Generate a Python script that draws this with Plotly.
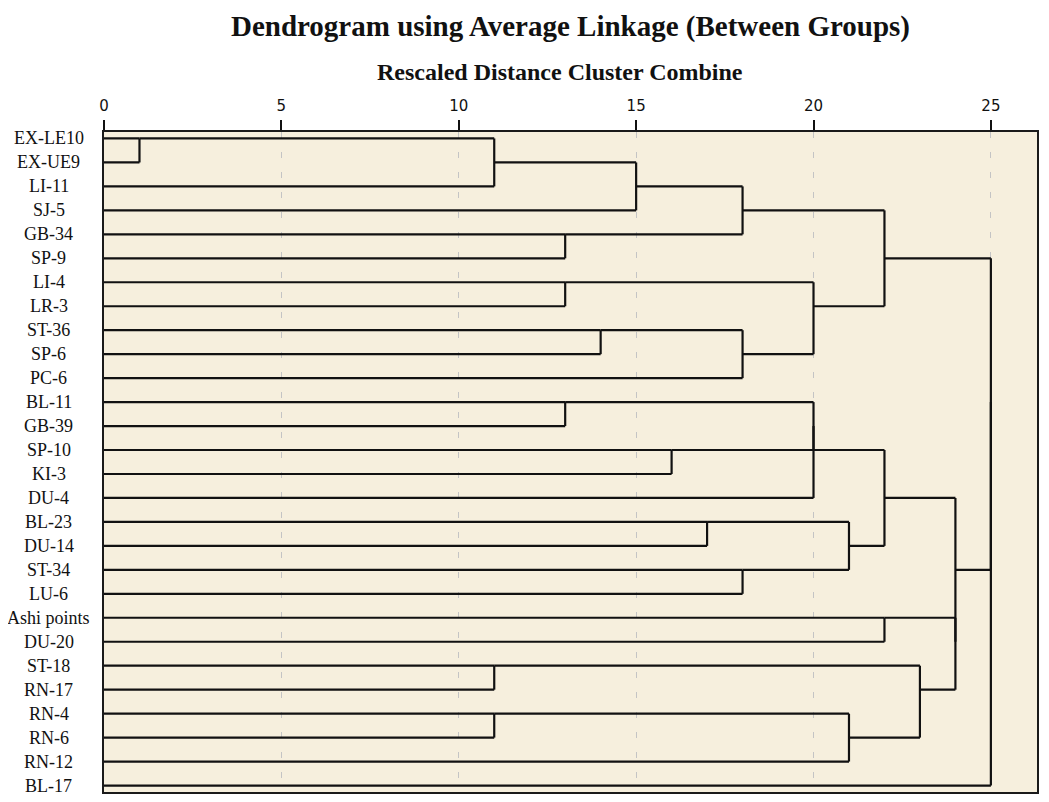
import plotly.graph_objects as go

# ---- data -------------------------------------------------------------
leaf_labels = [
    "EX-LE10", "EX-UE9", "LI-11", "SJ-5", "GB-34", "SP-9", "LI-4", "LR-3",
    "ST-36", "SP-6", "PC-6", "BL-11", "GB-39", "SP-10", "KI-3", "DU-4",
    "BL-23", "DU-14", "ST-34", "LU-6", "Ashi points", "DU-20", "ST-18",
    "RN-17", "RN-4", "RN-6", "RN-12", "BL-17",
]

# merge table (scipy-like): children are leaf indices (0..27) or
# earlier merge ids (28 + k); heights are rescaled distances
merge_a = [0, 28, 29, 4, 30, 6, 8, 34, 33, 32, 11, 13, 38, 40, 16, 18, 42, 41, 20, 22, 24, 48, 47, 46, 45, 37, 53]
merge_b = [1, 2, 3, 5, 31, 7, 9, 10, 35, 36, 12, 14, 39, 15, 17, 19, 43, 44, 21, 23, 25, 26, 49, 50, 51, 52, 27]
merge_h = [1, 11, 15, 13, 18, 13, 14, 18, 20, 22, 13, 16, 20, 20, 17, 18, 21, 22, 22, 11, 11, 21, 23, 24, 24, 25, 25]

x_ticks = [0, 5, 10, 15, 20, 25]

title_text = "Dendrogram using Average Linkage (Between Groups)"
subtitle_text = "Rescaled Distance Cluster Combine"

# ---- layout of the tree ------------------------------------------------
n = len(leaf_labels)
row = {i: i for i in range(n)}        # row (line) of each node
start = {i: 0 for i in range(n)}      # distance at which the node's line begins

xs, ys = [], []
for k, (a, b, h) in enumerate(zip(merge_a, merge_b, merge_h)):
    node = n + k
    for c in (a, b):
        xs += [start[c], h, None]
        ys += [row[c], row[c], None]
    lo, hi = sorted((row[a], row[b]))
    xs += [h, h, None]
    ys += [lo, hi, None]
    row[node] = (lo + hi) // 2
    start[node] = h

fig = go.Figure()
fig.add_trace(go.Scatter(
    x=xs, y=ys, mode="lines",
    line=dict(color="#111111", width=2.2),
    hoverinfo="skip", showlegend=False,
))

for i, lab in enumerate(leaf_labels):
    fig.add_annotation(
        x=-0.059, xref="paper", y=i, yref="y",
        text=lab, showarrow=False, xanchor="center", yanchor="middle",
        font=dict(family="Liberation Serif", size=18, color="#111111"),
    )

fig.add_annotation(
    x=0.4887, xref="paper", y=1.0909, yref="paper",
    text="<b>" + subtitle_text + "</b>", showarrow=False,
    xanchor="center", yanchor="middle",
    font=dict(family="Liberation Serif", size=24, color="#111111"),
)

fig.update_layout(
    width=1049, height=802, autosize=False,
    margin=dict(l=96, r=20, t=124, b=18),
    paper_bgcolor="white",
    plot_bgcolor="#F6EFDD",
    title=dict(
        text="<b>" + title_text + "</b>",
        x=0.5, xref="paper", xanchor="center",
        y=1 - 18 / 802, yref="container", yanchor="middle",
        font=dict(family="Liberation Serif", size=29, color="#111111"),
    ),
)

fig.update_xaxes(
    side="top", range=[0, 26.3],
    tickmode="array", tickvals=x_ticks, ticktext=[str(t) for t in x_ticks],
    ticks="outside", ticklen=10, tickwidth=1.5, tickcolor="#111111",
    ticklabelstandoff=3,
    tickfont=dict(family="DejaVu Sans", size=15, color="#111111"),
    showgrid=True, gridcolor="#C4C4C4", gridwidth=1, griddash="6px,14px",
    showline=True, linecolor="#1a1a1a", linewidth=2, mirror=True,
    zeroline=False, fixedrange=True,
)
fig.update_yaxes(
    range=[27.27, -0.27], showticklabels=False, ticks="",
    showgrid=False, zeroline=False,
    showline=True, linecolor="#1a1a1a", linewidth=2, mirror=True,
    fixedrange=True,
)

fig.write_html("out.html")
